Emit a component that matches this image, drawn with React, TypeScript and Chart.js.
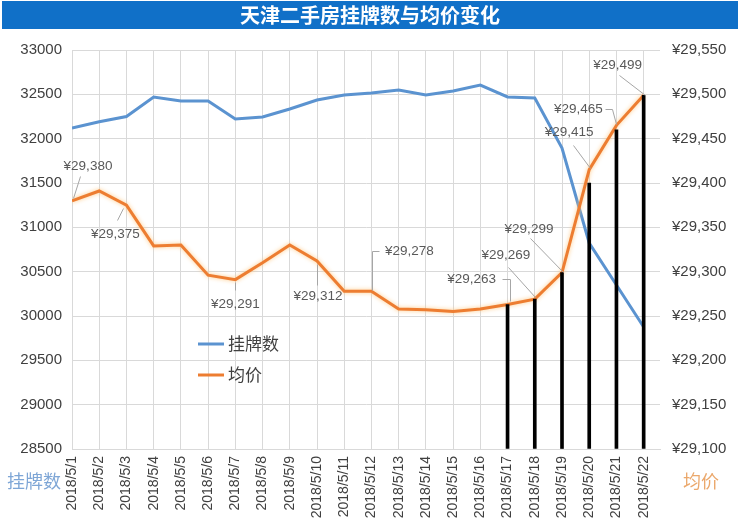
import React, { useEffect, useRef } from 'react';
import { Chart, registerables } from 'chart.js';

Chart.register(...registerables);

const TITLE = '天津二手房挂牌数与均价变化';
const SERIES_LISTINGS = '挂牌数';
const SERIES_PRICE = '均价';

const CATEGORIES = [
  '2018/5/1', '2018/5/2', '2018/5/3', '2018/5/4', '2018/5/5', '2018/5/6', '2018/5/7', '2018/5/8',
  '2018/5/9', '2018/5/10', '2018/5/11', '2018/5/12', '2018/5/13', '2018/5/14', '2018/5/15', '2018/5/16',
  '2018/5/17', '2018/5/18', '2018/5/19', '2018/5/20', '2018/5/21', '2018/5/22',
];

const LISTINGS = [
  32120, 32190, 32250, 32470, 32425, 32425, 32222, 32244, 32335, 32436, 32492,
  32515, 32549, 32492, 32538, 32605, 32470, 32459, 31895, 30823, 30350, 29876,
];

const AVG_PRICE = [
  29380, 29391, 29375, 29329, 29330, 29296, 29291, 29310, 29330, 29312, 29278,
  29278, 29258, 29257, 29255, 29258, 29263, 29269, 29299, 29415, 29465, 29499,
];

const DROP_BARS = [
  null, null, null, null, null, null, null, null, null, null, null,
  null, null, null, null, null, 29263, 29269, 29299, 29400, 29460, 29499,
];

const LEFT_MIN = 28500;
const LEFT_MAX = 33000;
const LEFT_STEP = 500;
const RIGHT_MIN = 29100;
const RIGHT_MAX = 29550;
const RIGHT_STEP = 50;

const LABELED_POINTS = [0, 2, 6, 9, 11, 16, 17, 18, 19, 20, 21];

// label placement (text centre offset + leader polyline offsets from the point)
const LABEL_LAYOUT: Record<number, { t: [number, number]; l: [number, number][] }> = {
  0: { t: [16, -34], l: [[8, -25], [1, -3]] },
  2: { t: [-11, 29], l: [[-3, 3], [-9, 15]] },
  6: { t: [0, 25], l: [[0, 2], [0, 10]] },
  9: { t: [1, 35], l: [[0, 3], [0, 24]] },
  11: { t: [38, -40], l: [[1, -1], [1, -40], [8, -40]] },
  16: { t: [-36, -25], l: [[-6, -25], [2, -25], [2, -3]] },
  17: { t: [-29, -44], l: [[-27, -32], [0, -2]] },
  18: { t: [-33, -43], l: [[-32, -35], [1, -1]] },
  19: { t: [-20, -37], l: [[-16, -25], [1, -2]] },
  20: { t: [-38, -16], l: [[-11, -16], [-4, -16], [0, -1]] },
  21: { t: [-26, -30], l: [[-25, -20], [1, 0]] },
};

const BLUE = '#5b93d0';
const ORANGE = '#ed7d31';
const GRID = '#d9d9d9';
const TEXT = '#404040';
const NUM_FONT = '"Liberation Sans", Arial, sans-serif';
const CJK_FONT = '"Noto Sans CJK SC", "Noto Sans", sans-serif';

const yen = (v: number) => '¥' + v.toLocaleString('en-US');

const decorPlugin = {
  id: 'decor',
  beforeDraw(chart: any) {
    const ctx = chart.ctx;
    ctx.save();
    ctx.fillStyle = '#ffffff';
    ctx.fillRect(0, 0, chart.width, chart.height);
    ctx.fillStyle = '#1070c8';
    ctx.fillRect(2, 1, chart.width - 4, 28);
    ctx.restore();
  },
  beforeDatasetDraw(chart: any, args: any) {
    if (args.index === 1) {
      const ctx = chart.ctx;
      ctx.save();
      ctx.shadowColor = 'rgba(255, 196, 120, 0.9)';
      ctx.shadowBlur = 4;
    }
  },
  afterDatasetDraw(chart: any, args: any) {
    if (args.index === 1) chart.ctx.restore();
  },
  afterDraw(chart: any) {
    const ctx = chart.ctx;
    ctx.save();
    // title
    ctx.fillStyle = '#ffffff';
    ctx.font = `bold 20px ${CJK_FONT}`;
    ctx.textAlign = 'center';
    ctx.textBaseline = 'middle';
    ctx.fillText(TITLE, 370, 15);

    // data labels
    const meta = chart.getDatasetMeta(1);
    ctx.font = `13.5px ${NUM_FONT}`;
    for (const i of LABELED_POINTS) {
      const p = meta.data[i];
      const lay = LABEL_LAYOUT[i];
      ctx.strokeStyle = '#a6a6a6';
      ctx.lineWidth = 1;
      ctx.beginPath();
      lay.l.forEach(([dx, dy], k) => {
        const x = Math.round(p.x + dx) + 0.5;
        const y = Math.round(p.y + dy) + 0.5;
        if (k === 0) ctx.moveTo(x, y);
        else ctx.lineTo(x, y);
      });
      ctx.stroke();
      ctx.fillStyle = '#595959';
      ctx.textAlign = 'center';
      ctx.textBaseline = 'middle';
      ctx.fillText(yen(AVG_PRICE[i]), p.x + lay.t[0], p.y + lay.t[1]);
    }

    // legend
    ctx.lineWidth = 3;
    ctx.strokeStyle = BLUE;
    ctx.beginPath();
    ctx.moveTo(198, 344);
    ctx.lineTo(224, 344);
    ctx.stroke();
    ctx.strokeStyle = ORANGE;
    ctx.beginPath();
    ctx.moveTo(198, 375);
    ctx.lineTo(224, 375);
    ctx.stroke();
    ctx.fillStyle = TEXT;
    ctx.font = `17px ${CJK_FONT}`;
    ctx.textAlign = 'left';
    ctx.textBaseline = 'middle';
    ctx.fillText(SERIES_LISTINGS, 228, 344);
    ctx.fillText(SERIES_PRICE, 228, 375);

    // axis titles
    ctx.font = `18px ${CJK_FONT}`;
    ctx.fillStyle = '#7ea6d6';
    ctx.fillText(SERIES_LISTINGS, 7, 481);
    ctx.fillStyle = '#eba86c';
    ctx.fillText(SERIES_PRICE, 683, 481);
    ctx.restore();
  },
};

export default function App() {
  const ref = useRef<HTMLCanvasElement>(null);
  useEffect(() => {
    const canvas = ref.current!;
    const chart = new Chart(canvas, {
      type: 'line',
      data: {
        datasets: [
          {
            type: 'bar',
            label: 'drop',
            data: DROP_BARS.map((v, i) => ({ x: i, y: v })) as any,
            yAxisID: 'y1',
            backgroundColor: '#000000',
            barThickness: 3,
            base: RIGHT_MIN,
          } as any,
          {
            label: SERIES_PRICE,
            data: AVG_PRICE.map((v, i) => ({ x: i, y: v })),
            yAxisID: 'y1',
            borderColor: ORANGE,
            borderWidth: 3,
            pointRadius: 0,
            tension: 0,
          },
          {
            label: SERIES_LISTINGS,
            data: LISTINGS.map((v, i) => ({ x: i, y: v })),
            yAxisID: 'y',
            borderColor: BLUE,
            borderWidth: 3,
            pointRadius: 0,
            tension: 0,
          },
        ],
      },
      options: {
        responsive: false,
        animation: false,
        devicePixelRatio: 1,
        layout: { padding: { top: 50, left: 0, right: 0, bottom: 0 } },
        plugins: {
          legend: { display: false },
          tooltip: { enabled: false },
          title: { display: false },
        },
        scales: {
          x: {
            type: 'linear',
            position: 'bottom',
            offset: false,
            min: 0,
            max: 21.6,
            grid: { color: GRID, drawTicks: false, offset: false },
            border: { color: GRID },
            ticks: {
              stepSize: 1,
              autoSkip: false,
              includeBounds: false,
              minRotation: 90,
              maxRotation: 90,
              padding: 7,
              color: TEXT,
              font: { family: NUM_FONT, size: 14 },
              callback: (v: any) => (Number.isInteger(v) && CATEGORIES[v] ? CATEGORIES[v] : ''),
            },
            afterFit: (s: any) => {
              s.height = 82;
              s.paddingLeft = 0;
              s.paddingRight = 0;
            },
          },
          y: {
            position: 'left',
            min: LEFT_MIN,
            max: LEFT_MAX,
            grid: { color: GRID, drawTicks: false },
            border: { color: GRID },
            ticks: {
              stepSize: LEFT_STEP,
              padding: 10,
              color: TEXT,
              font: { family: NUM_FONT, size: 15 },
              callback: (v: any) => String(v),
            },
            afterFit: (s: any) => {
              s.width = 72;
              s.paddingTop = 0;
              s.paddingBottom = 0;
            },
          },
          y1: {
            position: 'right',
            min: RIGHT_MIN,
            max: RIGHT_MAX,
            beginAtZero: false,
            grid: { drawOnChartArea: false, drawTicks: false },
            border: { display: false },
            ticks: {
              stepSize: RIGHT_STEP,
              padding: 12,
              color: TEXT,
              font: { family: NUM_FONT, size: 15 },
              callback: (v: any) => yen(v),
            },
            afterFit: (s: any) => {
              s.width = 80;
              s.paddingTop = 0;
              s.paddingBottom = 0;
            },
          },
        },
      },
      plugins: [decorPlugin],
    } as any);
    return () => chart.destroy();
  }, []);
  return (
    <div style={{ position: 'absolute', left: 0, top: 0, width: 740, height: 531 }}>
      <canvas ref={ref} width={740} height={531} style={{ display: 'block' }} />
    </div>
  );
}
